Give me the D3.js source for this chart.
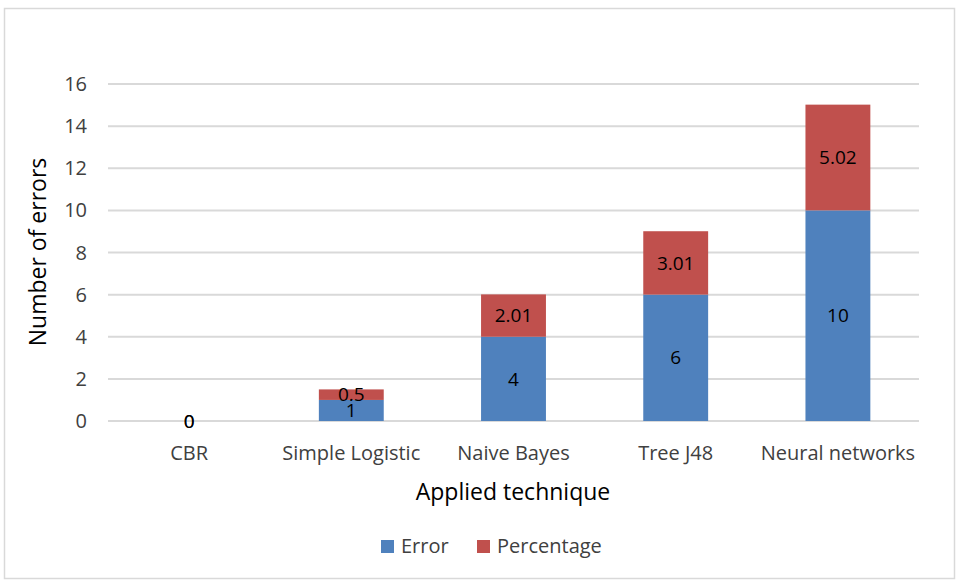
<!DOCTYPE html>
<html><head><meta charset="utf-8">
<script src="https://cdn.jsdelivr.net/npm/d3@7"></script>
<style>body{margin:0;background:#fff}svg{display:block}text{font-family:"Open Sans",Lato,sans-serif}</style>
</head><body><svg id="c" width="957" height="581"></svg>
<script>
const categories = ["CBR","Simple Logistic","Naive Bayes","Tree J48","Neural networks"];
const errorValues = [0,1,4,6,10];
const percentageValues = [0,0.5,2.01,3.01,5.02];
const seriesNames = ["Error","Percentage"];
const seriesColors = ["#4F81BD","#C0504D"];
const yTicks = [0,2,4,6,8,10,12,14,16];

const svg = d3.select("#c");
svg.append("rect").attr("x",4.5).attr("y",8.5).attr("width",950).attr("height",570)
  .attr("fill","#fff").attr("stroke","#d9d9d9").attr("stroke-width",1.5);

const x = d3.scaleBand().domain(categories).range([108,919]).paddingInner(0.6).paddingOuter(0.3);
const y = d3.scaleLinear().domain([0,16]).range([421,84]);

svg.append("g").selectAll("line").data(yTicks).join("line")
  .attr("x1",108).attr("x2",919).attr("y1",d=>y(d)).attr("y2",d=>y(d))
  .attr("stroke","#d9d9d9").attr("stroke-width",2);

svg.append("g").selectAll("text").data(yTicks).join("text")
  .attr("x",87).attr("y",d=>y(d)).attr("dy","0.35em").attr("text-anchor","end")
  .attr("font-size",20).attr("fill","#404040").text(d=>d);

const rows = categories.map((c,i)=>({cat:c, Error:errorValues[i], Percentage:percentageValues[i]}));
const stacked = d3.stack().keys(seriesNames)(rows);

stacked.forEach((s,si)=>{
  svg.append("g").selectAll("rect").data(s).join("rect")
    .attr("x",d=>x(d.data.cat)).attr("width",x.bandwidth())
    .attr("y",d=>y(d[1])).attr("height",d=>y(d[0])-y(d[1]))
    .attr("fill",seriesColors[si]);
});
stacked.forEach((s,si)=>{
  svg.append("g").selectAll("text").data(s).join("text")
    .attr("x",d=>x(d.data.cat)+x.bandwidth()/2)
    .attr("y",d=>(y(d[0])+y(d[1]))/2).attr("dy","0.35em")
    .attr("text-anchor","middle").attr("font-size",19).attr("fill","#000")
    .text(d=>d.data[s.key]);
});

svg.append("g").selectAll("text").data(categories).join("text")
  .attr("x",d=>x(d)+x.bandwidth()/2).attr("y",453).attr("dy","0.35em")
  .attr("text-anchor","middle").attr("font-size",20).attr("fill","#404040").text(d=>d);

svg.append("text").attr("x",513).attr("y",492).attr("dy","0.35em").attr("text-anchor","middle")
  .attr("font-size",23).attr("fill","#000").text("Applied technique");
svg.append("text").attr("transform","translate(38,252) rotate(-90)").attr("dy","0.35em")
  .attr("text-anchor","middle").attr("font-size",23).attr("fill","#000").text("Number of errors");

const legX = [381,477];
seriesNames.forEach((n,i)=>{
  svg.append("rect").attr("x",legX[i]).attr("y",540).attr("width",13).attr("height",13).attr("fill",seriesColors[i]);
  svg.append("text").attr("x",legX[i]+20).attr("y",546).attr("dy","0.35em").attr("font-size",20)
    .attr("fill","#404040").text(n);
});
</script></body></html>
